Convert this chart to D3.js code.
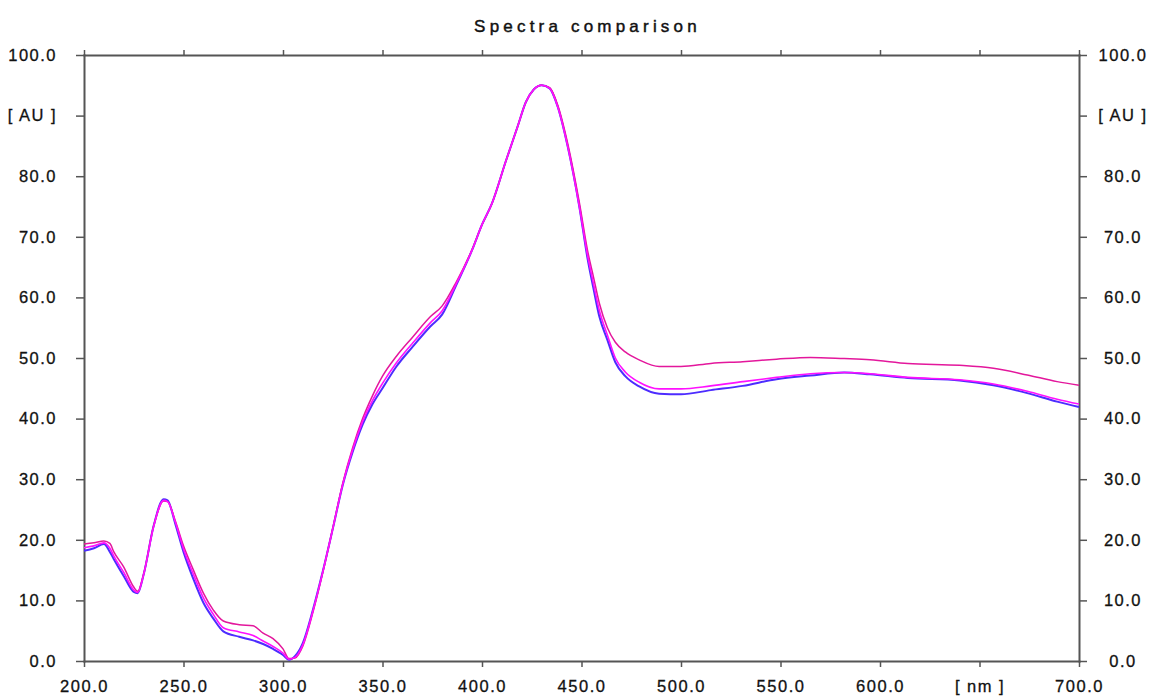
<!DOCTYPE html>
<html>
<head>
<meta charset="utf-8">
<script src="https://cdn.jsdelivr.net/npm/d3@7.9.0/dist/d3.min.js"></script>
<style>
  body { margin: 0; background: #fff; }
  svg { display: block; }
  .tick-label { font-family: "Liberation Sans", Arial, sans-serif; font-size: 16.5px; letter-spacing: 1.5px; fill: #111; stroke: #111; stroke-width: 0.3px; }
  .title { font-family: "Liberation Sans", Arial, sans-serif; font-size: 17px; letter-spacing: 4.2px; fill: #111; stroke: #111; stroke-width: 0.45px; }
</style>
</head>
<body>
<div id="chart"></div>
<script>
// wavelengths [nm]
const wavelengths = [200,205,210,213,215,220,225,227,230,235,240,242,246,250,255,260,265,270,278,285,
  290,295,300,303,306,310,315,320,325,330,335,340,345,350,357,365,374,380,387,395,
  400,405,412,418,422,426,430,434,438,443,449,453,456,459,463,467,472,479,489,500,
  515,531,548,565,582,595,614,640,657,674,689,700];

const blueSeries = [18.2,18.6,19.3,18.0,16.8,14.0,11.4,11.2,14.3,22.3,26.7,26.5,22.5,18.0,13.5,9.6,7.0,4.9,4.0,3.4,
  2.8,2.0,1.0,0.2,0.8,3.0,8.4,14.8,21.8,29.0,34.5,39.0,42.4,45.0,48.6,51.8,55.2,57.2,62.0,67.8,
  72.0,75.5,82.5,88.3,92.2,94.3,95.0,94.5,91.5,85.0,74.8,66.5,61.5,56.8,53.0,49.3,47.0,45.3,44.1,44.0,
  44.7,45.4,46.5,47.1,47.6,47.3,46.7,46.3,45.5,44.2,42.8,41.9];

const magentaSeries = [18.7,19.0,19.5,18.6,17.3,14.6,11.7,11.3,14.3,22.2,26.5,26.3,22.8,18.5,14.3,10.4,7.7,5.5,4.8,4.2,
  3.3,2.4,1.3,0.3,0.6,2.7,8.2,14.7,21.8,29.1,34.8,39.5,43.0,45.8,49.2,52.4,55.8,57.8,62.2,67.8,
  72.0,75.5,82.5,88.3,92.2,94.3,95.0,94.5,91.5,85.0,74.8,67.0,62.3,57.8,53.8,50.0,47.7,46.0,44.9,44.9,
  45.4,46.1,46.8,47.4,47.6,47.4,46.8,46.4,45.7,44.5,43.2,42.4];

const pinkSeries = [19.3,19.5,19.8,19.4,18.0,15.5,12.2,11.5,14.4,22.3,26.4,26.3,23.0,19.0,15.0,11.2,8.4,6.6,6.0,5.8,
  4.6,3.7,2.0,0.4,0.5,2.5,8.0,14.6,21.9,29.3,35.2,40.0,43.8,47.0,50.3,53.4,56.8,58.6,62.5,67.9,
  72.0,75.5,82.5,88.3,92.2,94.3,95.0,94.6,91.8,85.5,75.5,67.8,63.4,59.0,55.0,52.6,51.0,49.7,48.6,48.6,
  49.1,49.4,49.8,50.1,49.9,49.7,49.1,48.8,48.3,47.2,46.1,45.5];

const xTicks = [200,250,300,350,400,450,500,550,600,650,700];
const yTicks = [0,10,20,30,40,50,60,70,80,90,100];
const xUnitTick = 650, xUnit = '[ nm ]';
const yUnitTick = 90, yUnit = '[ AU ]';

const width = 1151, height = 697;
const margin = { top: 55, right: 72, bottom: 36, left: 84 };

const svg = d3.select('#chart').append('svg')
  .attr('width', width).attr('height', height);

const x = d3.scaleLinear().domain([200, 700]).range([margin.left, width - margin.right]);
const y = d3.scaleLinear().domain([0, 100]).range([height - margin.bottom, margin.top]);

// title
svg.append('text').attr('class', 'title')
  .attr('x', (x.range()[0] + x.range()[1]) / 2 + 6).attr('y', 32)
  .attr('text-anchor', 'middle').text('Spectra comparison');

const fmt = d => d.toFixed(1);
const axisColor = '#555';

function styleAxis(g) {
  g.select('.domain').attr('stroke', axisColor).attr('stroke-width', 2);
  g.selectAll('.tick line').attr('stroke', axisColor).attr('stroke-width', 1.5);
}

// bottom
const gb = svg.append('g').attr('transform', `translate(0,${y(0)})`)
  .call(d3.axisBottom(x).tickValues(xTicks).tickSizeInner(6).tickSizeOuter(0)
    .tickFormat(d => d === xUnitTick ? xUnit : fmt(d)));
styleAxis(gb);
gb.selectAll('.tick text').attr('class', 'tick-label').attr('y', 19).attr('dy', '0.71em')
  .attr('font-size', null).attr('font-family', null);

// top
const gt = svg.append('g').attr('transform', `translate(0,${y(100)})`)
  .call(d3.axisTop(x).tickValues(xTicks).tickSizeInner(5).tickSizeOuter(0).tickFormat(''));
styleAxis(gt);

// left
const gl = svg.append('g').attr('transform', `translate(${x(200)},0)`)
  .call(d3.axisLeft(y).tickValues(yTicks).tickSizeInner(8).tickSizeOuter(0)
    .tickFormat(d => d === yUnitTick ? yUnit : fmt(d)));
styleAxis(gl);
gl.selectAll('.tick text').attr('class', 'tick-label').attr('x', -27)
  .attr('font-size', null).attr('font-family', null);

// right
const gr = svg.append('g').attr('transform', `translate(${x(700)},0)`)
  .call(d3.axisRight(y).tickValues(yTicks).tickSizeInner(8).tickSizeOuter(0)
    .tickFormat(d => d === yUnitTick ? yUnit : fmt(d)));
styleAxis(gr);
gr.selectAll('.tick text').attr('class', 'tick-label').attr('x', 44).attr('text-anchor', 'middle')
  .attr('font-size', null).attr('font-family', null);

svg.selectAll('.domain').attr('stroke-linecap', 'square');

// spectra
const series = [
  { name: 'blue', values: blueSeries, color: '#4d2cff', w: 2 },
  { name: 'pink', values: pinkSeries, color: '#e3179c', w: 1.5 },
  { name: 'magenta', values: magentaSeries, color: '#ff10ff', w: 1.6 },
];

const line = d3.line()
  .x((d, i) => x(wavelengths[i]))
  .y(d => y(d))
  .curve(d3.curveMonotoneX);

svg.append('g').selectAll('path')
  .data(series)
  .join('path')
  .attr('fill', 'none')
  .attr('stroke', d => d.color)
  .attr('stroke-width', d => d.w)
  .attr('d', d => line(d.values));
</script>
</body>
</html>
